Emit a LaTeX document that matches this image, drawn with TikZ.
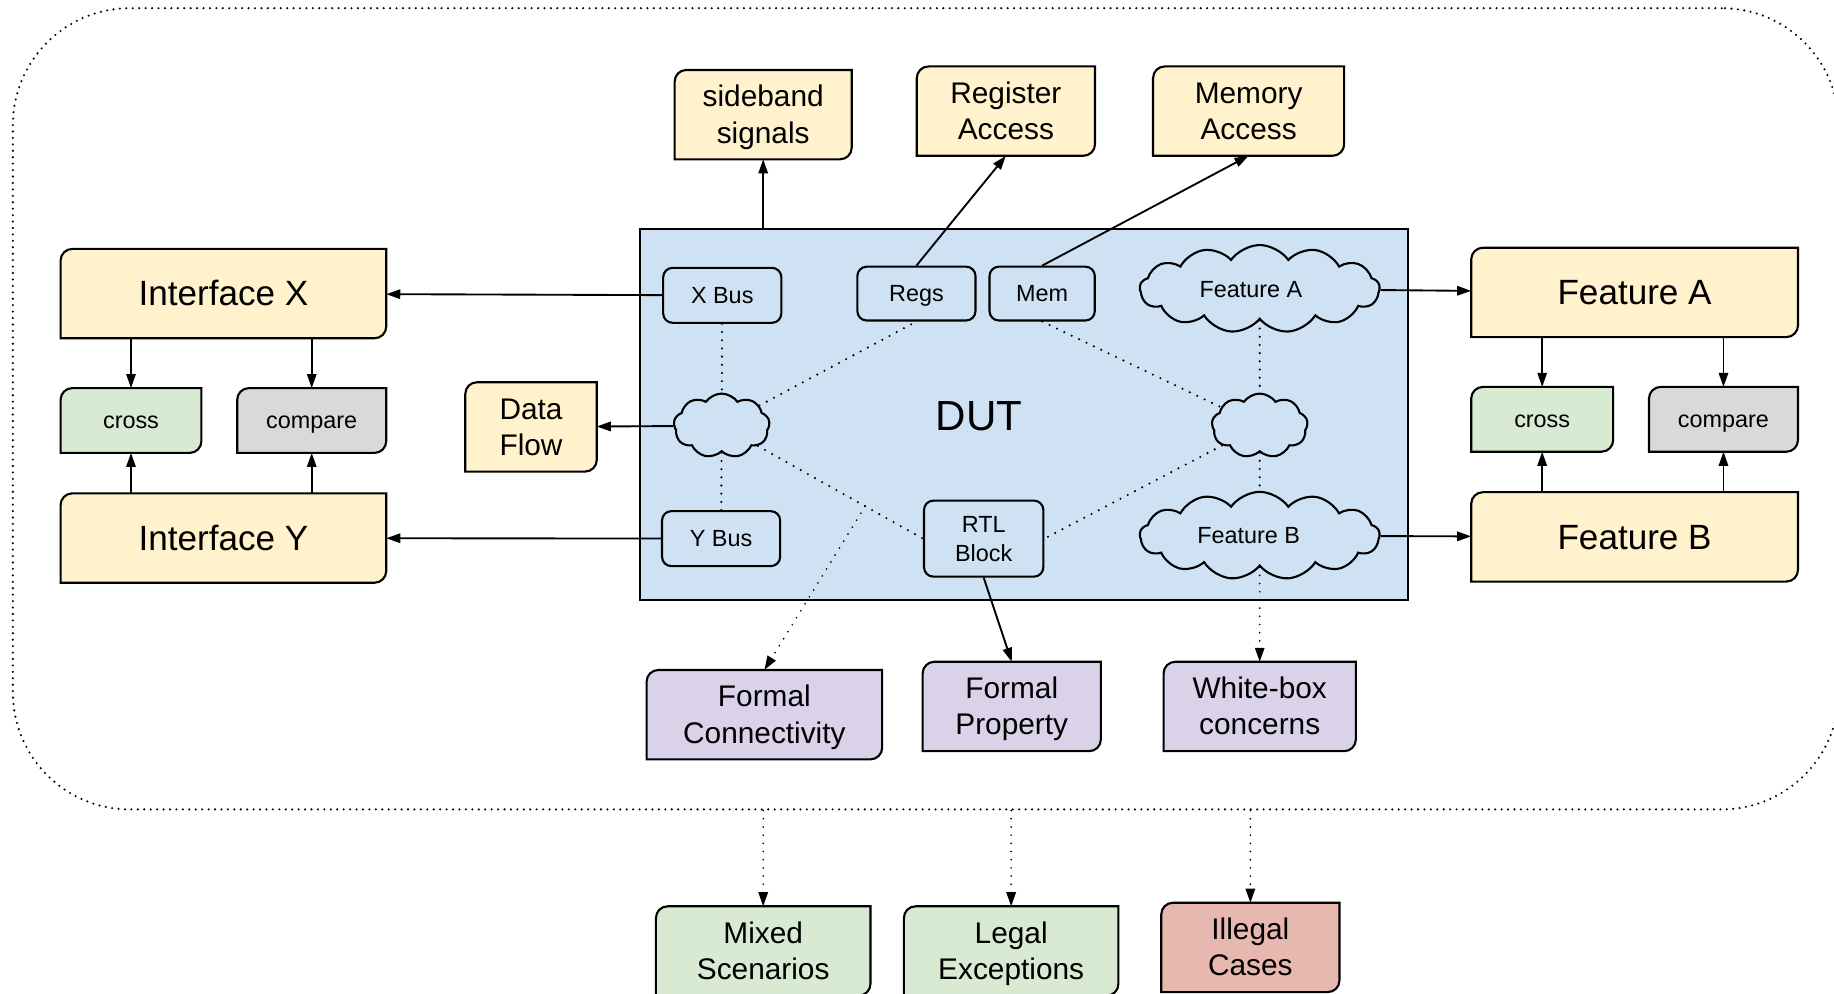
\documentclass[tikz,border=0pt]{standalone}
\usepackage{fontspec}
\setmainfont{Liberation Sans}
\usetikzlibrary{shapes.symbols,arrows.meta,backgrounds}

\definecolor{ylw}{HTML}{FFF2CC}
\definecolor{grn}{HTML}{D9EAD3}
\definecolor{gry}{HTML}{D9D9D9}
\definecolor{ppl}{HTML}{D9D2E9}
\definecolor{rdd}{HTML}{E6B8AF}
\definecolor{blu}{HTML}{CFE2F3}

% line strut: ascent and descent of the font
\newcommand\ls{\vrule width 0pt height 0.905em depth 0.212em}

\tikzset{
  sz/.style 2 args={minimum width=#1pt, minimum height=#2pt},
  card/.style={inner sep=0pt, align=center},
  big/.style={font=\fontsize{30}{34}\selectfont},
  mid/.style={font=\fontsize{25.5}{31}\selectfont},
  sml/.style={font=\fontsize{20}{25}\selectfont},
  unit/.style={draw, line width=1.8pt, fill=blu, rounded corners=8pt, inner sep=0pt, align=center, sml},
  puff/.style={cloud, cloud puffs=13, cloud puff arc=110, cloud ignores aspect, draw, line width=1.8pt, fill=blu, inner sep=0pt, sml},
  arr/.style={line width=1.6pt, -{Triangle[length=12pt,width=8pt]}},
  dots/.style={line width=2pt, line cap=round, dash pattern=on 0pt off 7pt},
}

\begin{document}
\begin{tikzpicture}[x=1pt,y=-1pt]
  \useasboundingbox (0,0) rectangle (1568,849);

  % --- outer dotted frame ---
  \node[dots, dash pattern=on 0pt off 5.5pt, draw, rounded corners=100pt, sz={1561}{685}] (frame) at (791.5,349.5) {};

  % --- DUT block ---
  \node[draw, line width=1.8pt, fill=blu, sz={657}{317}] (dut) at (875.5,354.5) {};
  \node[font=\fontsize{36}{40}\selectfont] (dutlbl) at (837,356) {DUT};

  \node[unit, sz={101}{47}] (xbus) at (617.5,252.5) {\ls X Bus};
  \node[unit, sz={101}{47}] (ybus) at (616.5,460.5) {\ls Y Bus};
  \node[unit, sz={101}{46}] (regs) at (783.5,251) {\ls Regs};
  \node[unit, sz={90}{46}] (mem) at (891,251) {\ls Mem};
  \node[unit, sz={102}{65}] (rtl) at (841,460.5) {\ls RTL\\\ls Block};

  \node[puff, sz={205}{75}] (cA) at (1077,247) {\ls Feature A\kern 15pt};
  \node[puff, sz={205}{75}] (cB) at (1077,458) {\ls Feature B\kern 19pt};
  \node[puff, cloud puffs=9, sz={82}{55}] (cL) at (617,364) {};
  \node[puff, cloud puffs=9, sz={82}{55}] (cR) at (1077,364) {};

  % --- cards, left side ---
  \node[card, big, sz={278}{76}] (ifx) at (191,251) {\ls Interface X};
  \node[card, big, sz={278}{76}] (ify) at (191,460) {\ls Interface Y};
  \node[card, sml, sz={120}{55}] (crossL) at (112,359.5) {\ls cross};
  \node[card, sml, sz={127}{55}] (cmpL) at (266.5,359.5) {\ls compare};
  \node[card, mid, sz={112}{76}] (flow) at (454,365) {\ls Data\\\ls Flow};

  % --- cards, top ---
  \node[card, mid, sz={151}{76}] (side) at (652.5,98) {\ls sideband\\\ls signals};
  \node[card, mid, sz={152}{76}] (rega) at (860,95) {\ls Register\\\ls Access};
  \node[card, mid, sz={163}{76}] (mema) at (1067.5,95) {\ls Memory\\\ls Access};

  % --- cards, right side ---
  \node[card, big, sz={279}{76}] (fa) at (1397.5,250) {\ls Feature A};
  \node[card, big, sz={279}{76}] (fb) at (1397.5,459) {\ls Feature B};
  \node[card, sml, sz={121}{55}] (crossR) at (1318.5,358.5) {\ls cross};
  \node[card, sml, sz={127}{55}] (cmpR) at (1473.5,358.5) {\ls compare};

  % --- cards, bottom ---
  \node[card, mid, sz={201}{76}] (fcon) at (653.5,611) {\ls Formal\\\ls Connectivity};
  \node[card, mid, sz={152}{76}] (fprop) at (865,604) {\ls Formal\\\ls Property};
  \node[card, mid, sz={164}{76}] (wbox) at (1077,604) {\ls White-box\\\ls concerns};
  \node[card, mid, sz={183}{76}] (mix) at (652.5,813) {\ls Mixed\\\ls Scenarios};
  \node[card, mid, sz={183}{76}] (legal) at (864.5,813) {\ls Legal\\\ls Exceptions};
  \node[card, mid, sz={152}{76}] (illeg) at (1069,810) {\ls Illegal\\\ls Cases};

  % --- card outlines: two round corners ---
  \begin{scope}[on background layer]
    \foreach \n/\c in {ifx/ylw, ify/ylw, crossL/grn, cmpL/gry, flow/ylw,
                       side/ylw, rega/ylw, mema/ylw, fa/ylw, fb/ylw,
                       crossR/grn, cmpR/gry, fcon/ppl, fprop/ppl, wbox/ppl,
                       mix/grn, legal/grn, illeg/rdd}
      \draw[line width=1.8pt, fill=\c] (\n.south west)
        -- ([yshift=-10pt]\n.north west) arc[start angle=180, end angle=90, radius=10pt]
        -- (\n.north east)
        -- ([yshift=10pt]\n.south east) arc[start angle=0, end angle=-90, radius=10pt]
        -- cycle;
  \end{scope}

  % --- dotted links inside DUT ---
  \draw[dots] (xbus) -- (cL);
  \draw[dots] (cL) -- (ybus);
  \draw[dots] (cL) -- (regs.south);
  \draw[dots] (cL) -- (rtl.west) coordinate[pos=0.65] (tap);
  \draw[dots] (mem.south) -- (cR);
  \draw[dots] (cR) -- (rtl.east);
  \draw[dots] (cA) -- (cR);
  \draw[dots] (cR) -- (cB);

  % --- solid arrows ---
  \draw[arr] (xbus) -- (ifx);
  \draw[arr] (ybus) -- (ify);
  \draw[arr] (cL) -- (flow);
  \draw[arr] (dut.north -| side) -- (side);
  \draw[arr] (regs.north) -- (rega.south);
  \draw[arr] (mem.north) -- (mema.south);
  \draw[arr] (cA) -- (fa);
  \draw[arr] (cB) -- (fb);
  \draw[arr] (rtl.south) -- (fprop.north);
  \foreach \top/\bot/\low in {ifx/ify/crossL, ifx/ify/cmpL, fa/fb/crossR, fa/fb/cmpR} {
    \draw[arr] (\low |- \top.south) -- (\low.north);
    \draw[arr] (\low |- \bot.north) -- (\low.south);
  }

  % --- dotted arrows ---
  \draw[dots, arr] (tap) -- (fcon.north);
  \draw[dots, arr] (cB) -- (wbox);
  \foreach \n in {mix, legal, illeg}
    \draw[dots, arr] (frame.south -| \n) -- (\n.north);
\end{tikzpicture}
\end{document}
